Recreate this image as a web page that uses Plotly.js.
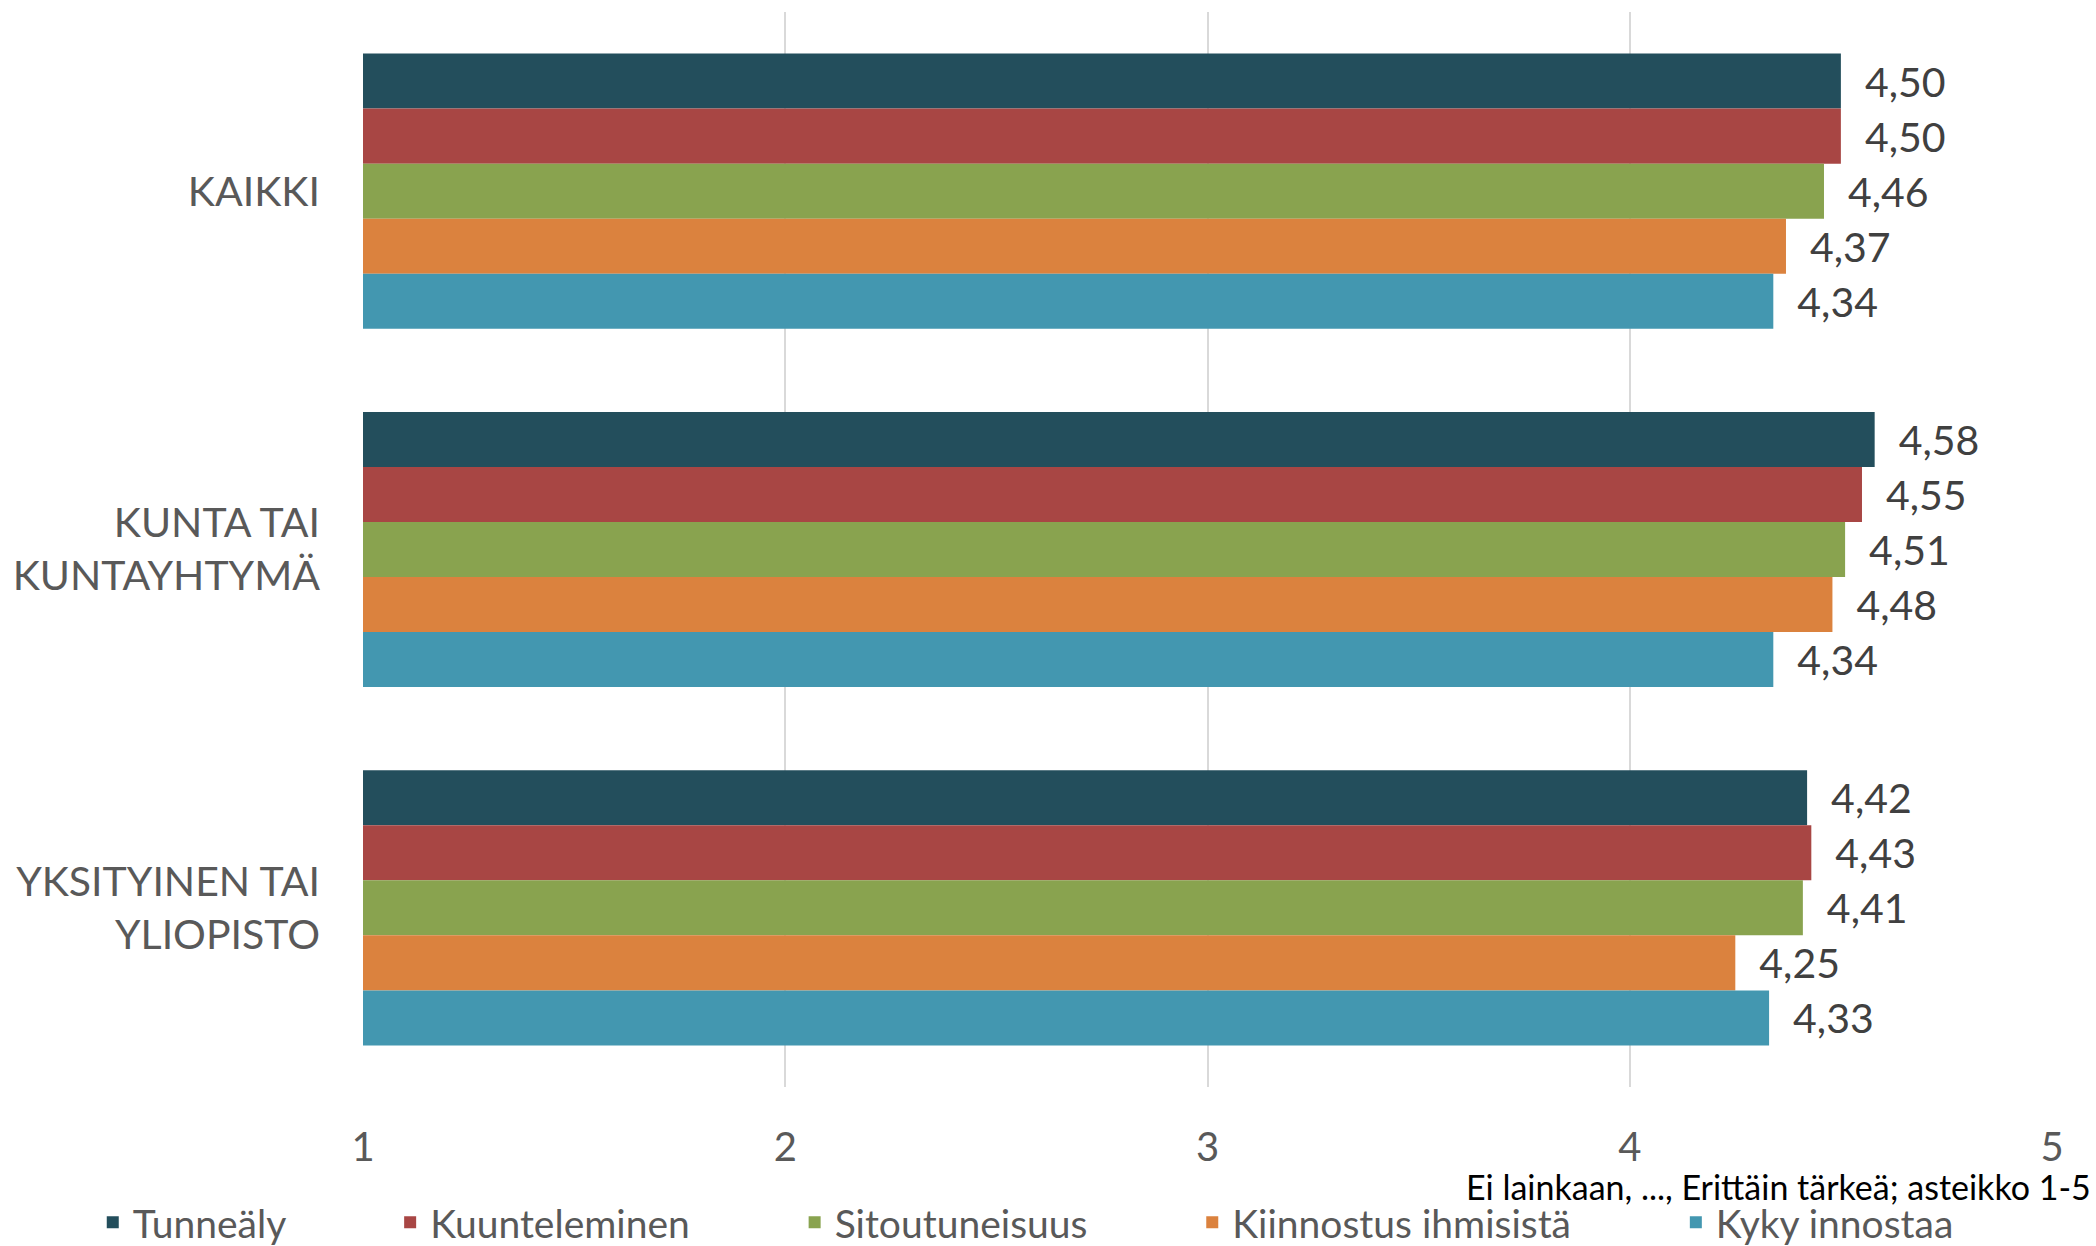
<!DOCTYPE html>
<html>
<head>
<meta charset="utf-8">
<script src="https://cdn.plot.ly/plotly-3.0.1.min.js"></script>
<style>html,body{margin:0;padding:0;background:#fff;}#chart{width:2096px;height:1246px;}</style>
</head>
<body>
<div id="chart"></div>
<script>
const categories = ["KAIKKI", "KUNTA TAI<br>KUNTAYHTYMÄ", "YKSITYINEN TAI<br>YLIOPISTO"];
const seriesNames = ["Tunneäly", "Kuunteleminen", "Sitoutuneisuus", "Kiinnostus ihmisistä", "Kyky innostaa"];
const tunnealy = [4.50, 4.58, 4.42];
const kuunteleminen = [4.50, 4.55, 4.43];
const sitoutuneisuus = [4.46, 4.51, 4.41];
const kiinnostus = [4.37, 4.48, 4.25];
const kykyInnostaa = [4.34, 4.34, 4.33];
const xTicks = [1, 2, 3, 4, 5];
const axisNote = "Ei lainkaan, ..., Erittäin tärkeä; asteikko 1-5";
const colors = ["#234E5C", "#A84644", "#89A34F", "#DB823E", "#4397B0"];

const seriesValues = [tunnealy, kuunteleminen, sitoutuneisuus, kiinnostus, kykyInnostaa];
const pad = "\u00a0".repeat(10);
const traces = seriesValues.map((vals, i) => ({
  type: "bar",
  orientation: "h",
  name: seriesNames[i] + (i < seriesNames.length - 1 ? pad : ""),
  y: categories,
  x: vals,
  marker: {color: colors[i]},
  texttemplate: "\u00a0\u00a0%{x:.2f}",
  textposition: "outside",
  constraintext: "none",
  cliponaxis: false,
  textfont: {family: "Lato, sans-serif", size: 41, color: "#404040"},
  hoverinfo: "skip"
}));

const layout = {
  width: 2096,
  height: 1246,
  margin: {l: 363, r: 44, t: 12, b: 159, autoexpand: false},
  paper_bgcolor: "#ffffff",
  plot_bgcolor: "#ffffff",
  separators: ", ",
  barmode: "group",
  bargap: 0.232,
  bargroupgap: 0,
  font: {family: "Lato, sans-serif", color: "#595959"},
  xaxis: {
    range: [1, 5],
    tickvals: xTicks,
    ticktext: xTicks.map(String),
    showgrid: true,
    gridcolor: "#d9d9d9",
    gridwidth: 2,
    zeroline: false,
    showline: false,
    ticks: "",
    automargin: false,
    ticklabelstandoff: 33,
    tickfont: {family: "Lato, sans-serif", size: 40, color: "#595959"}
  },
  yaxis: {
    autorange: "reversed",
    showgrid: false,
    zeroline: false,
    showline: false,
    ticks: "",
    automargin: false,
    ticklabelstandoff: 42,
    tickfont: {family: "Lato, sans-serif", size: 41, color: "#595959"}
  },
  showlegend: true,
  legend: {
    orientation: "h",
    xref: "paper",
    yref: "paper",
    x: -0.160,
    xanchor: "left",
    y: -0.126,
    yanchor: "middle",
    font: {family: "Lato, sans-serif", size: 39, color: "#595959"},
    traceorder: "normal",
    bgcolor: "rgba(0,0,0,0)"
  },
  annotations: [{
    text: axisNote,
    xref: "paper",
    yref: "paper",
    x: 1.024,
    xanchor: "right",
    y: -0.093,
    yanchor: "middle",
    showarrow: false,
    font: {family: "Lato, sans-serif", size: 34, color: "#000000"}
  }]
};

Plotly.newPlot("chart", traces, layout, {displayModeBar: false, staticPlot: true});
</script>
</body>
</html>
